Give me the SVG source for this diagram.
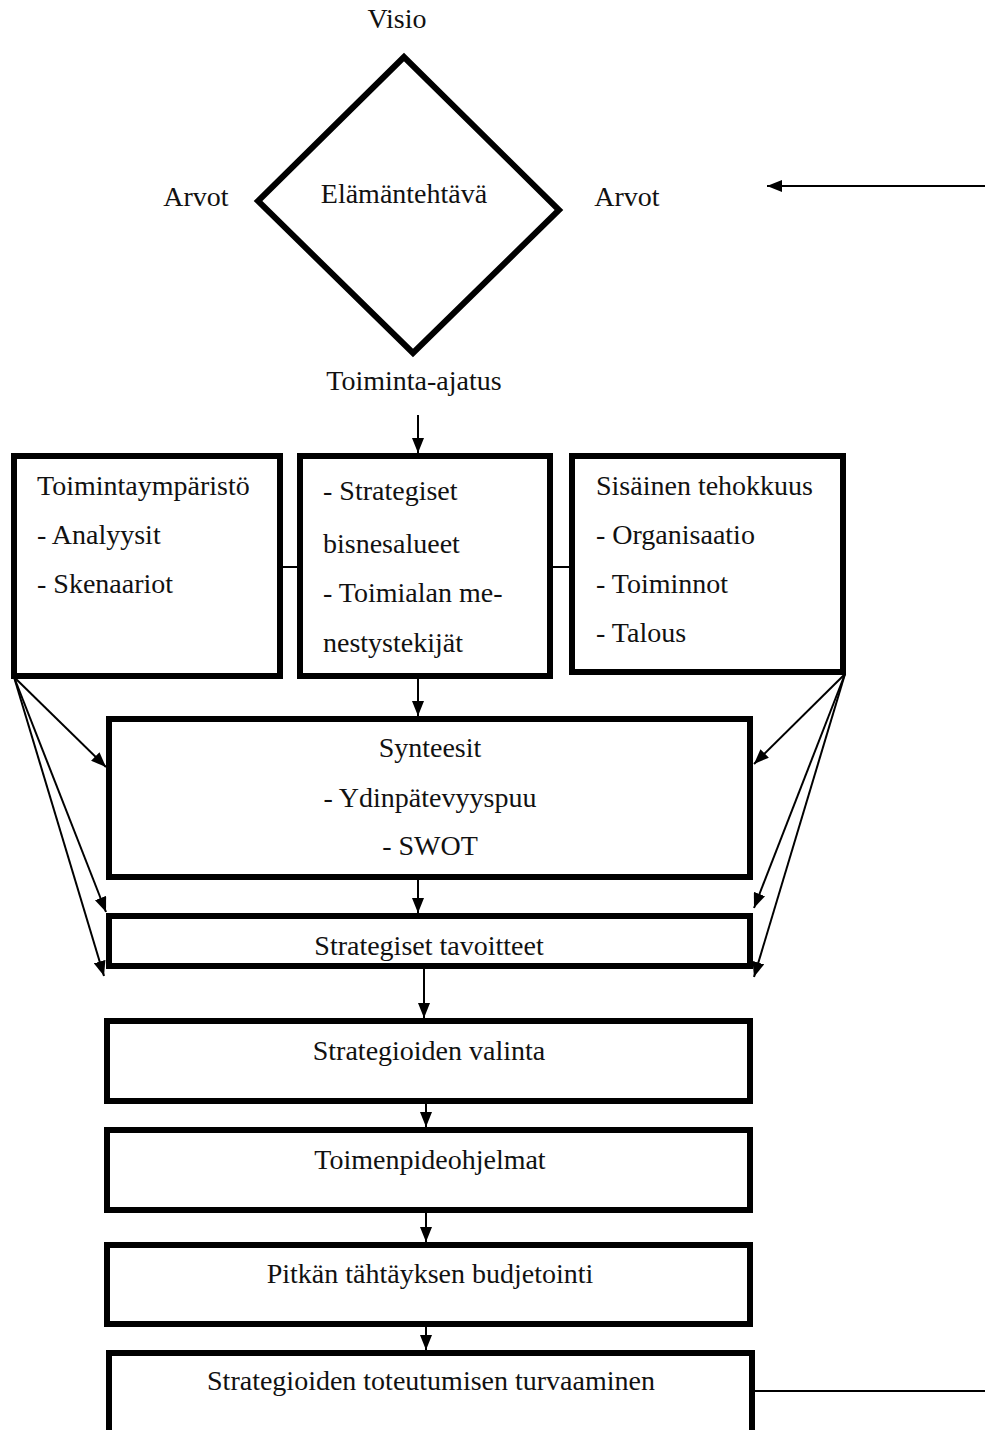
<svg xmlns="http://www.w3.org/2000/svg" width="985" height="1430" viewBox="0 0 985 1430">
<style>
  text { font-family: "Liberation Serif", "Times New Roman", serif; font-size: 28px; fill: #111; }
  .c { text-anchor: middle; }
  .box { fill: #fff; stroke: #000; stroke-width: 6; }
  .conn { stroke: #000; stroke-width: 2; fill: none; }
  .arr { stroke: #000; stroke-width: 2; fill: none; marker-end: url(#ah); }
</style>
<defs>
  <marker id="ah" markerUnits="userSpaceOnUse" markerWidth="16" markerHeight="12" refX="15" refY="6" orient="auto">
    <path d="M0,0 L15,6 L0,12 Z" fill="#000"/>
  </marker>
</defs>
<rect width="985" height="1430" fill="#fff"/>

<g id="top-labels">
  <text class="c" x="397" y="28">Visio</text>
  <text class="c" x="196" y="206">Arvot</text>
  <text class="c" x="627" y="206">Arvot</text>
  <text class="c" x="414" y="390">Toiminta-ajatus</text>
</g>

<g id="elamantehtava">
  <polygon points="404,57 258,201 413,353 559,210" fill="#fff" stroke="#000" stroke-width="6" stroke-linejoin="miter"/>
  <text class="c" x="404" y="203">Elämäntehtävä</text>
</g>

<g id="connectors">
  <line class="arr" x1="985" y1="186" x2="767" y2="186"/>
  <line class="arr" x1="418" y1="415" x2="418" y2="453"/>
  <line class="conn" x1="283" y1="567" x2="297" y2="567" stroke-width="3"/>
  <line class="conn" x1="553" y1="567" x2="569" y2="567" stroke-width="3"/>
  <line class="arr" x1="418" y1="679" x2="418" y2="716"/>
  <line class="arr" x1="418" y1="880" x2="418" y2="913"/>
  <line class="arr" x1="424" y1="969" x2="424" y2="1018"/>
  <line class="arr" x1="426" y1="1104" x2="426" y2="1127"/>
  <line class="arr" x1="426" y1="1213" x2="426" y2="1242"/>
  <line class="arr" x1="426" y1="1327" x2="426" y2="1350"/>
  <line class="conn" x1="755" y1="1391" x2="985" y2="1391"/>
  <line class="arr" x1="14" y1="677" x2="106" y2="767"/>
  <line class="arr" x1="14" y1="677" x2="106" y2="912"/>
  <line class="arr" x1="14" y1="677" x2="104" y2="976"/>
  <line class="arr" x1="845" y1="674" x2="754" y2="764"/>
  <line class="arr" x1="845" y1="674" x2="754" y2="908"/>
  <line class="arr" x1="845" y1="674" x2="754" y2="977"/>
</g>

<g id="toimintaymparisto">
  <rect class="box" x="14" y="456" width="266" height="220"/>
  <text x="37" y="495">Toimintaympäristö</text>
  <text x="37" y="544">- Analyysit</text>
  <text x="37" y="593">- Skenaariot</text>
</g>

<g id="bisnesalueet">
  <rect class="box" x="300" y="456" width="250" height="220"/>
  <text x="323" y="500">- Strategiset</text>
  <text x="323" y="553">bisnesalueet</text>
  <text x="323" y="602">- Toimialan me-</text>
  <text x="323" y="652">nestystekijät</text>
</g>

<g id="sisainen-tehokkuus">
  <rect class="box" x="572" y="456" width="271" height="216"/>
  <text x="596" y="495">Sisäinen tehokkuus</text>
  <text x="596" y="544">- Organisaatio</text>
  <text x="596" y="593">- Toiminnot</text>
  <text x="596" y="642">- Talous</text>
</g>

<g id="synteesit">
  <rect class="box" x="109" y="719" width="641" height="158"/>
  <text class="c" x="430" y="757">Synteesit</text>
  <text class="c" x="430" y="807">- Ydinpätevyyspuu</text>
  <text class="c" x="430" y="855">- SWOT</text>
</g>

<g id="strategiset-tavoitteet">
  <rect class="box" x="109" y="916" width="641" height="50"/>
  <text class="c" x="429" y="955">Strategiset tavoitteet</text>
</g>

<g id="strategioiden-valinta">
  <rect class="box" x="107" y="1021" width="643" height="80"/>
  <text class="c" x="429" y="1060">Strategioiden valinta</text>
</g>

<g id="toimenpideohjelmat">
  <rect class="box" x="107" y="1130" width="643" height="80"/>
  <text class="c" x="430" y="1169">Toimenpideohjelmat</text>
</g>

<g id="budjetointi">
  <rect class="box" x="107" y="1245" width="643" height="79"/>
  <text class="c" x="430" y="1283">Pitkän tähtäyksen budjetointi</text>
</g>

<g id="turvaaminen">
  <rect class="box" x="109" y="1353" width="643" height="100"/>
  <text class="c" x="431" y="1390">Strategioiden toteutumisen turvaaminen</text>
</g>
</svg>
